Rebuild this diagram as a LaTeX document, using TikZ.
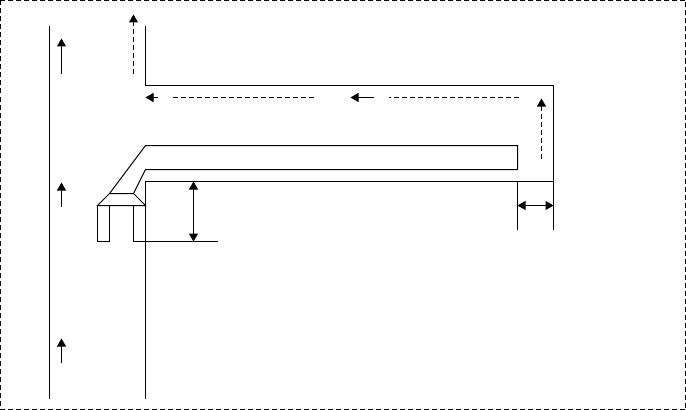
\documentclass[tikz,border=0pt]{standalone}
\usetikzlibrary{arrows.meta}
\tikzset{
  wall/.style={draw=black,line width=0.75pt},
  flow/.style={draw=black,line width=0.75pt,-{Triangle[length=6pt,width=6.75pt]}},
  dashflow/.style={flow,dash pattern=on 3.75pt off 2.25pt},
  dashrun/.style={draw=black,line width=0.75pt,dash pattern=on 3.75pt off 2.25pt},
  dimen/.style={draw=black,line width=0.75pt,{Triangle[length=6pt,width=6.75pt]}-{Triangle[length=6pt,width=6.75pt]}},
}
\begin{document}
\begin{tikzpicture}[x=0.75pt,y=-0.75pt]
\useasboundingbox (-0.5,-0.5) rectangle (685.5,409.5);

% frame
\draw[dashrun] (0,0) rectangle (685,409);

% left wall and main duct
\draw[wall] (49,26) -- (49,398);
\draw[wall] (145,26) -- (145,85) -- (553,85) -- (553,229);
\draw[wall] (145,398) -- (145,181) -- (553,181);

% inner duct and nozzle
\draw[wall] (109,193) -- (145,145) -- (517,145) -- (517,169) -- (145,169) -- (133,193);
\draw[wall] (97,205) -- (109,193) -- (133,193) -- (145,205) -- cycle;
\draw[wall] (97,205) -- (97,241) -- (109,241) -- (109,205);
\draw[wall] (133,205) -- (133,241) -- (217,241);
\draw[wall] (517,181) -- (517,229);

% flow arrows
\draw[flow] (61,74) -- (61,38);
\draw[flow] (61,206) -- (61,182);
\draw[flow] (61,362) -- (61,338);
\draw[dashflow] (133,74) -- (133,14);
\draw[dashflow] (541,158) -- (541,98);
\draw[flow] (157,97) -- (145,97);
\draw[dashrun] (313,97) -- (169,97);
\draw[flow] (373,97) -- (350,97);
\draw[dashrun] (518,97) -- (388,97);

% dimensions
\draw[dimen] (193,181) -- (193,241);
\draw[dimen] (517,205) -- (553,205);

\end{tikzpicture}
\end{document}
